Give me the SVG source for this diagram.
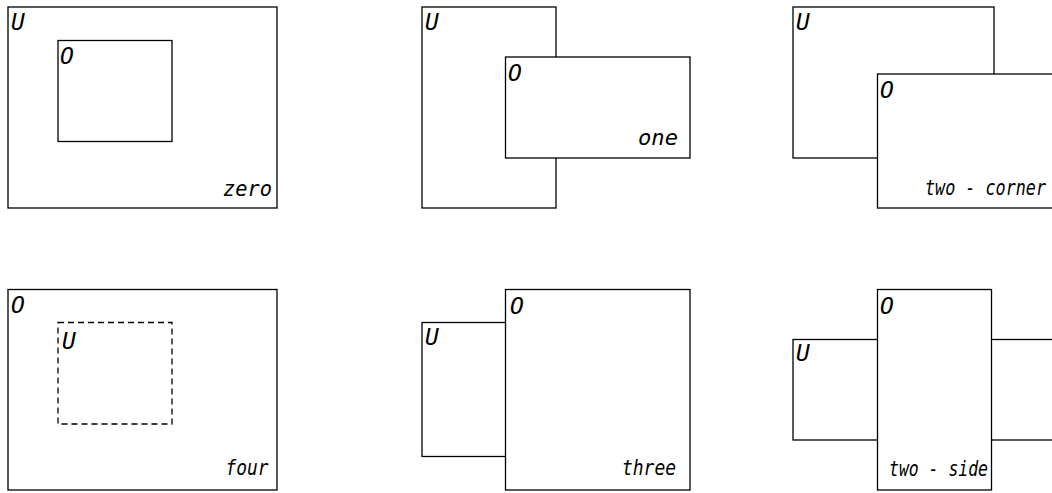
<svg xmlns="http://www.w3.org/2000/svg" width="1052" height="493" viewBox="0 0 1052 493">
  <style>
    .box { fill: #fff; stroke: #000; stroke-width: 1.3; }
    .dash { fill: none; stroke: #000; stroke-width: 1.3; stroke-dasharray: 6 4; }
    .lbl { font-family: "DejaVu Sans Mono", "Liberation Mono", monospace; font-style: italic; font-size: 21px; fill: #000; }
    .cap { font-family: "DejaVu Sans Mono", "Liberation Mono", monospace; font-style: italic; font-size: 23px; fill: #000; }
  </style>
  <rect width="1052" height="493" fill="#fff"/>

  <!-- zero: O lies entirely inside U -->
  <g id="zero">
    <rect class="box" x="8" y="7" width="269" height="201"/>
    <text class="cap" x="11" y="30">U</text>
    <rect class="box" x="58" y="40.5" width="114" height="101"/>
    <text class="cap" x="60" y="64">O</text>
    <text class="lbl" x="223" y="196" textLength="49" lengthAdjust="spacingAndGlyphs">zero</text>
  </g>

  <!-- one: O crosses one side of U -->
  <g id="one">
    <rect class="box" x="422" y="7" width="134" height="201"/>
    <text class="cap" x="425" y="30">U</text>
    <rect class="box" x="505.5" y="57" width="184.5" height="101"/>
    <text class="cap" x="508" y="81">O</text>
    <text class="lbl" x="638" y="145" textLength="40" lengthAdjust="spacingAndGlyphs">one</text>
  </g>

  <!-- two - corner: O covers a corner of U -->
  <g id="two-corner">
    <rect class="box" x="793" y="7" width="201" height="151"/>
    <text class="cap" x="796" y="30">U</text>
    <rect class="box" x="877.5" y="74" width="190" height="134"/>
    <text class="cap" x="880" y="98">O</text>
    <text class="lbl" x="925" y="195" textLength="121" lengthAdjust="spacingAndGlyphs">two - corner</text>
  </g>

  <!-- four: U lies entirely inside O -->
  <g id="four">
    <rect class="box" x="8" y="289.5" width="269" height="200.5"/>
    <text class="cap" x="11" y="313">O</text>
    <rect class="dash" x="58" y="322.5" width="114" height="101.5"/>
    <text class="cap" x="62" y="349">U</text>
    <text class="lbl" x="225.5" y="475" textLength="43" lengthAdjust="spacingAndGlyphs">four</text>
  </g>

  <!-- three: O covers three sides of U -->
  <g id="three">
    <rect class="box" x="422" y="322.5" width="90" height="134"/>
    <text class="cap" x="425" y="345">U</text>
    <rect class="box" x="505.5" y="289.5" width="184.5" height="200.5"/>
    <text class="cap" x="510" y="314">O</text>
    <text class="lbl" x="622" y="475" textLength="54" lengthAdjust="spacingAndGlyphs">three</text>
  </g>

  <!-- two - side: O crosses two opposite sides of U -->
  <g id="two-side">
    <rect class="box" x="793" y="339.5" width="275" height="100.5"/>
    <text class="cap" x="796" y="361">U</text>
    <rect class="box" x="877.5" y="289.5" width="114" height="200.5"/>
    <text class="cap" x="880" y="314">O</text>
    <text class="lbl" x="889" y="476" textLength="99" lengthAdjust="spacingAndGlyphs">two - side</text>
  </g>

  <g id="connectors"/>
</svg>
